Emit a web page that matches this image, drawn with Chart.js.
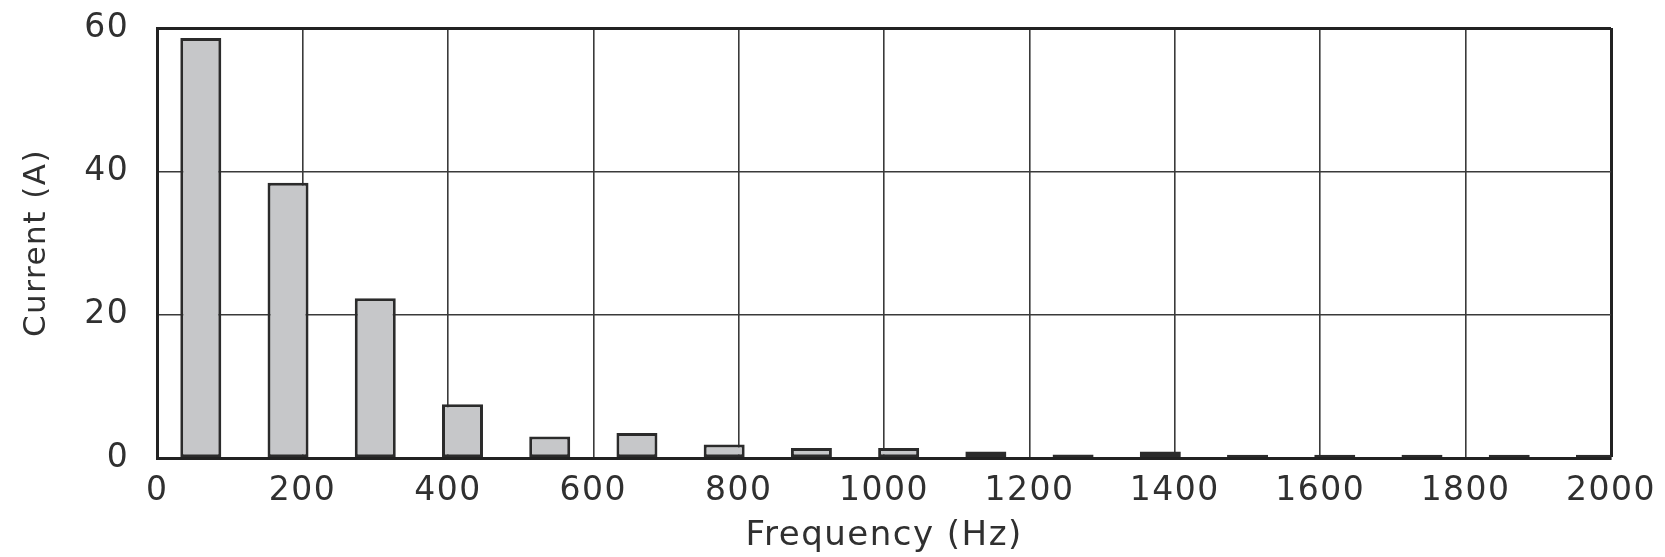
<!DOCTYPE html>
<html>
<head>
<meta charset="utf-8">
<script src="https://cdn.jsdelivr.net/npm/chart.js@4.4.0/dist/chart.umd.min.js"></script>
<style>
  html, body { margin: 0; padding: 0; background: #ffffff; }
  #wrap { width: 1665px; height: 557px; position: relative; }
</style>
</head>
<body>
<div id="wrap"><canvas id="c"></canvas></div>
<script>
// Harmonic frequencies (Hz) and measured current amplitudes (A)
const frequencies = [60, 180, 300, 420, 540, 660, 780, 900, 1020, 1140, 1260, 1380, 1500, 1620, 1740, 1860, 1980];
const currents = [58.6, 38.4, 22.3, 7.5, 3.0, 3.5, 1.9, 1.4, 1.4, 0.9, 0.5, 0.9, 0.45, 0.45, 0.45, 0.45, 0.45];
const xTickStep = 200;
const yTickStep = 20;
const xRange = [0, 2000];
const yRange = [0, 60];
const xTitle = 'Frequency (Hz)';
const yTitle = 'Current (A)';

const points = frequencies.map((f, i) => ({ x: f, y: currents[i] }));

const FONT = '"DejaVu Sans", "Liberation Sans", sans-serif';
const TEXT = '#303030';
const GRID = '#3a3a3a';
const FRAME = '#222222';

// slightly extended lettering, like the scanned original
const spacingPlugin = {
  id: 'letterSpacing',
  beforeUpdate(chart) { chart.ctx.letterSpacing = '1.5px'; },
  beforeDraw(chart) { chart.ctx.letterSpacing = '1.5px'; }
};

new Chart(document.getElementById('c'), {
  type: 'bar',
  plugins: [spacingPlugin],
  data: {
    datasets: [{
      data: points,
      backgroundColor: '#c6c7c9',
      borderColor: '#2b2b2b',
      borderWidth: 3,
      borderSkipped: false,
      categoryPercentage: 1.0,
      barPercentage: 0.47
    }]
  },
  options: {
    responsive: true,
    maintainAspectRatio: false,
    animation: false,
    devicePixelRatio: 1,
    layout: { padding: { top: 28, right: 54, bottom: 0, left: 10 } },
    plugins: { legend: { display: false }, tooltip: { enabled: false } },
    scales: {
      x: {
        type: 'linear',
        min: xRange[0],
        max: xRange[1],
        offset: false,
        afterFit(scale) {
          scale.height = 99;
          scale.paddingLeft = 0;
          scale.paddingRight = 0;
        },
        ticks: {
          stepSize: xTickStep,
          padding: 17,
          color: TEXT,
          font: { family: FONT, size: 33, lineHeight: 1.0 },
          maxRotation: 0,
          autoSkip: false,
          callback: (v) => String(v)
        },
        grid: {
          offset: false,
          drawTicks: false,
          color: (ctx) => (ctx.tick && ctx.tick.value === xRange[1]) ? FRAME : GRID,
          lineWidth: (ctx) => (ctx.tick && ctx.tick.value === xRange[1]) ? 3 : 1.6
        },
        border: { display: true, color: FRAME, width: 3 },
        title: {
          display: true,
          text: xTitle,
          color: TEXT,
          font: { family: FONT, size: 34, lineHeight: 1.0 },
          padding: { top: 1, bottom: 4 }
        }
      },
      y: {
        min: yRange[0],
        max: yRange[1],
        afterFit(scale) {
          scale.paddingTop = 0;
          scale.paddingBottom = 0;
        },
        ticks: {
          stepSize: yTickStep,
          padding: 28,
          color: TEXT,
          font: { family: FONT, size: 33 },
          callback: (v) => String(v)
        },
        grid: {
          drawTicks: false,
          color: (ctx) => (ctx.tick && ctx.tick.value === yRange[1]) ? FRAME : GRID,
          lineWidth: (ctx) => (ctx.tick && ctx.tick.value === yRange[1]) ? 3 : 1.6
        },
        border: { display: true, color: FRAME, width: 3 },
        title: {
          display: true,
          text: yTitle,
          color: TEXT,
          font: { family: FONT, size: 31 },
          padding: { top: 8, bottom: 1 }
        }
      }
    }
  }
});
</script>
</body>
</html>
